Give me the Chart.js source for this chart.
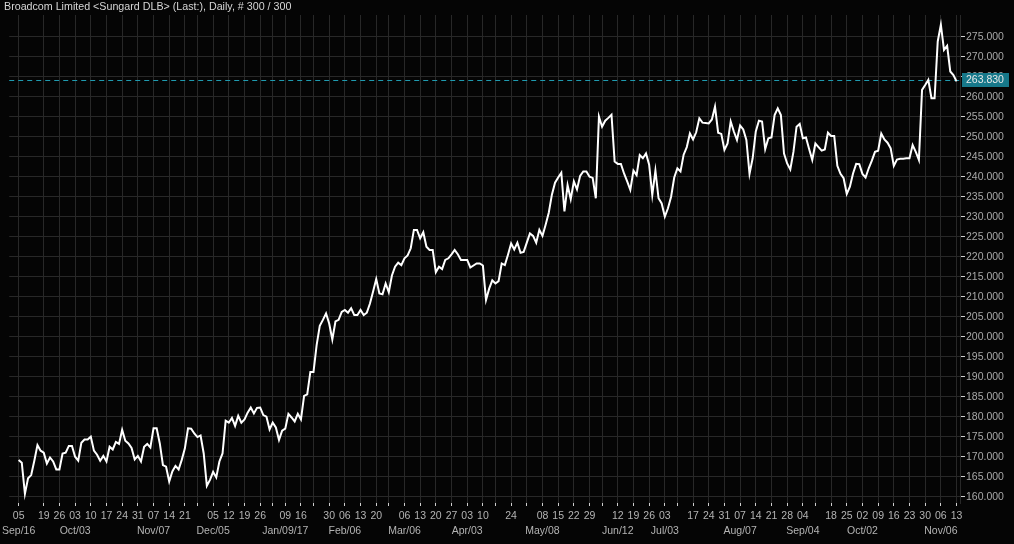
<!DOCTYPE html>
<html>
<head>
<meta charset="utf-8">
<title>Broadcom Limited</title>
<script src="https://cdn.jsdelivr.net/npm/chart.js@4.4.1/dist/chart.umd.min.js"></script>
<style>
    html, body { margin: 0; padding: 0; background: #050505; }
    #wrap { width: 1014px; height: 544px; }
</style>
</head>
<body>
<div id="wrap"><canvas id="priceChart" width="1014" height="544"></canvas></div>
<script>
const chartTitle = 'Broadcom Limited <Sungard DLB> (Last:), Daily, # 300 / 300';

// daily closes, one per trading day, 2016-09-07 .. 2017-11-13
const closes = [
    169.2, 168.5, 160.7, 164.6, 165.4, 169.0, 172.9, 171.5, 171.0, 168.3,
    169.8, 168.8, 166.8, 166.8, 170.8, 171.0, 172.7, 172.7, 170.0, 169.0,
    173.5, 174.3, 174.3, 175.0, 171.5, 170.5, 169.0, 170.2, 168.8, 172.5,
    171.8, 173.7, 173.2, 176.7, 174.0, 173.3, 172.2, 169.3, 170.2, 168.8,
    172.5, 173.2, 172.3, 177.1, 177.1, 173.3, 167.9, 167.5, 163.8, 166.3,
    167.7, 166.8, 169.2, 172.1, 177.1, 177.0, 175.8, 174.9, 175.3, 170.8,
    162.7, 164.2, 166.2, 164.8, 168.8, 170.8, 179.0, 178.5, 179.7, 177.7,
    180.2, 178.5, 179.3, 181.0, 182.3, 180.8, 182.2, 182.3, 180.4, 180.0,
    176.8, 178.5, 177.3, 174.2, 176.5, 177.0, 180.7, 179.8, 178.8, 180.7,
    179.3, 185.2, 185.6, 191.2, 191.2, 197.9, 202.7, 204.2, 205.8, 203.3,
    199.3, 203.8, 204.2, 206.2, 206.7, 206.0, 207.1, 205.4, 205.4, 206.7,
    205.4, 206.0, 208.3, 211.3, 214.4, 210.8, 210.6, 213.3, 211.1, 215.3,
    217.5, 218.5, 217.9, 219.6, 220.3, 222.1, 226.7, 226.7, 224.6, 226.1,
    222.5, 221.7, 221.7, 216.1, 217.5, 216.9, 219.2, 219.6, 220.6, 221.7,
    220.6, 219.2, 219.2, 219.2, 217.3, 217.8, 218.3, 218.3, 217.8, 209.2,
    212.0, 214.1, 213.3, 213.9, 218.3, 217.9, 220.5, 223.3, 221.8, 223.5,
    221.0, 221.2, 223.5, 225.8, 225.2, 223.5, 226.7, 225.2, 228.0, 231.0,
    235.5, 238.5, 239.8, 241.0, 231.3, 237.9, 234.4, 238.8, 236.8, 240.2,
    241.3, 241.3, 240.0, 239.7, 234.6, 255.0, 252.5, 254.0, 254.7, 255.5,
    243.8, 243.2, 243.2, 240.8, 238.8, 236.7, 241.5, 240.4, 245.4, 244.6,
    245.8, 243.0, 235.4, 241.5, 234.6, 233.3, 230.0, 232.1, 235.0, 239.8,
    242.1, 241.3, 245.5, 247.4, 250.8, 249.3, 251.1, 254.6, 253.5, 253.4,
    253.3, 254.3, 257.5, 251.0, 250.7, 246.7, 248.3, 253.8, 251.3, 249.2,
    252.8, 251.8, 249.2, 240.7, 244.6, 251.3, 254.0, 253.8, 246.9, 249.6,
    249.8, 255.4, 257.1, 255.4, 245.8, 243.3, 241.8, 246.2, 252.5, 253.2,
    249.6, 249.8, 246.9, 244.2, 248.3, 247.4, 246.5, 246.8, 251.0, 250.2,
    250.2, 242.7, 240.7, 239.6, 235.7, 237.5, 240.8, 243.2, 243.1, 240.7,
    239.8, 242.1, 244.0, 246.2, 246.5, 250.8, 249.3, 248.5, 247.1, 242.7,
    244.3, 244.5, 244.5, 244.6, 244.6, 247.9, 246.2, 244.2, 261.7, 262.9,
    264.2, 259.6, 259.6, 273.8, 278.0, 271.7, 272.7, 266.3, 265.4, 263.83
];
const lastClose = closes[closes.length - 1];

// weekly ticks: trading-day index, day label, month label
const weekIndex = [0, 8, 13, 18, 23, 28, 33, 38, 43, 48, 53, 57, 62, 67, 72, 77, 81, 85, 90, 94,
    99, 104, 109, 114, 118, 123, 128, 133, 138, 143, 148, 152, 157, 162, 167, 172, 177, 182, 186,
    191, 196, 201, 206, 210, 215, 220, 225, 230, 235, 240, 245, 250, 254, 259, 264, 269, 274, 279,
    284, 289, 294, 299];
const weekDays = ['05', '19', '26', '03', '10', '17', '24', '31', '07', '14', '21', '', '05', '12', '19', '26', '', '09', '16', '',
    '30', '06', '13', '20', '', '06', '13', '20', '27', '03', '10', '', '24', '', '08', '15', '22', '29', '',
    '12', '19', '26', '03', '', '17', '24', '31', '07', '14', '21', '28', '04', '', '18', '25', '02', '09', '16',
    '23', '30', '06', '13'];
const weekMonths = ['Sep/16', '', '', 'Oct/03', '', '', '', '', 'Nov/07', '', '', '', 'Dec/05', '', '', '', '', 'Jan/09/17', '', '',
    '', 'Feb/06', '', '', '', 'Mar/06', '', '', '', 'Apr/03', '', '', '', '', 'May/08', '', '', '', '',
    'Jun/12', '', '', 'Jul/03', '', '', '', '', 'Aug/07', '', '', '', 'Sep/04', '', '', '', 'Oct/02', '', '',
    '', '', 'Nov/06', ''];

const priceTicks = [160, 165, 170, 175, 180, 185, 190, 195, 200, 205, 210, 215, 220, 225,
    230, 235, 240, 245, 250, 255, 260, 265, 270, 275];

Chart.defaults.font.family = '"Liberation Sans", Arial, sans-serif';

const titleText = {
    id: 'titleText',
    afterDraw(chart) {
        const ctx = chart.ctx;
        ctx.save();
        ctx.fillStyle = '#d6d6d6';
        ctx.font = '10.7px "Liberation Sans", Arial, sans-serif';
        ctx.textBaseline = 'middle';
        ctx.fillText(chartTitle, 4, 7);
        ctx.restore();
    }
};

const lastValueLine = {
    id: 'lastValueLine',
    beforeDatasetsDraw(chart) {
        const { ctx, chartArea, scales } = chart;
        const y = Math.round(scales.y.getPixelForValue(lastClose)) - 0.5;
        ctx.save();
        ctx.strokeStyle = '#1f9bb0';
        ctx.lineWidth = 1;
        ctx.setLineDash([5, 4]);
        ctx.beginPath();
        ctx.moveTo(chartArea.left, y);
        ctx.lineTo(chartArea.right, y);
        ctx.stroke();
        ctx.restore();
    },
    afterDraw(chart) {
        const { ctx, chartArea, scales } = chart;
        const y = Math.round(scales.y.getPixelForValue(lastClose)) - 1;
        ctx.save();
        ctx.fillStyle = '#17788a';
        ctx.fillRect(chartArea.right + 2, y - 7, 47, 14);
        ctx.fillStyle = '#e8e8e8';
        ctx.font = '10.5px "Liberation Sans", Arial, sans-serif';
        ctx.textBaseline = 'middle';
        ctx.fillText(lastClose.toFixed(3), chartArea.right + 6, y + 0.5);
        ctx.restore();
    }
};

const ctx = document.getElementById('priceChart').getContext('2d');
new Chart(ctx, {
    type: 'line',
    data: {
        datasets: [{
            label: 'Last',
            data: closes.map((v, i) => ({ x: i, y: v })),
            borderColor: '#ffffff',
            borderWidth: 2,
            pointRadius: 0,
            tension: 0,
            fill: false
        }]
    },
    options: {
        responsive: false,
        animation: false,
        devicePixelRatio: 1,
        layout: { padding: { top: 15, left: 0, right: 0, bottom: 0 } },
        plugins: {
            legend: { display: false },
            tooltip: { enabled: false }
        },
        scales: {
            x: {
                type: 'linear',
                min: -3.0,
                max: 300.1,
                afterBuildTicks: function (scale) {
                    scale.ticks = weekIndex.map(v => ({ value: v }));
                },
                afterFit: function (scale) {
                    scale.height = 41;
                },
                grid: {
                    color: '#282828',
                    tickColor: '#cfcfcf',
                    tickLength: 3
                },
                border: { display: false },
                ticks: {
                    autoSkip: false,
                    maxRotation: 0,
                    padding: 2,
                    color: '#b4b4b4',
                    font: { size: 10.5, lineHeight: 1.45 },
                    callback: function (value, index) {
                        if (weekMonths[index]) {
                            return [weekDays[index], weekMonths[index]];
                        }
                        return weekDays[index];
                    }
                }
            },
            y: {
                position: 'right',
                min: 158.42,
                max: 280.42,
                afterBuildTicks: function (scale) {
                    scale.ticks = priceTicks.map(v => ({ value: v }));
                },
                afterFit: function (scale) {
                    scale.width = 54;
                },
                grid: {
                    color: '#282828',
                    tickColor: '#cfcfcf',
                    tickLength: 5
                },
                border: { display: true, color: '#282828' },
                ticks: {
                    padding: 1,
                    color: '#a8a8a8',
                    font: { size: 10.5 },
                    callback: function (value) {
                        return value.toFixed(3);
                    }
                }
            }
        }
    },
    plugins: [lastValueLine, titleText]
});
</script>
</body>
</html>
